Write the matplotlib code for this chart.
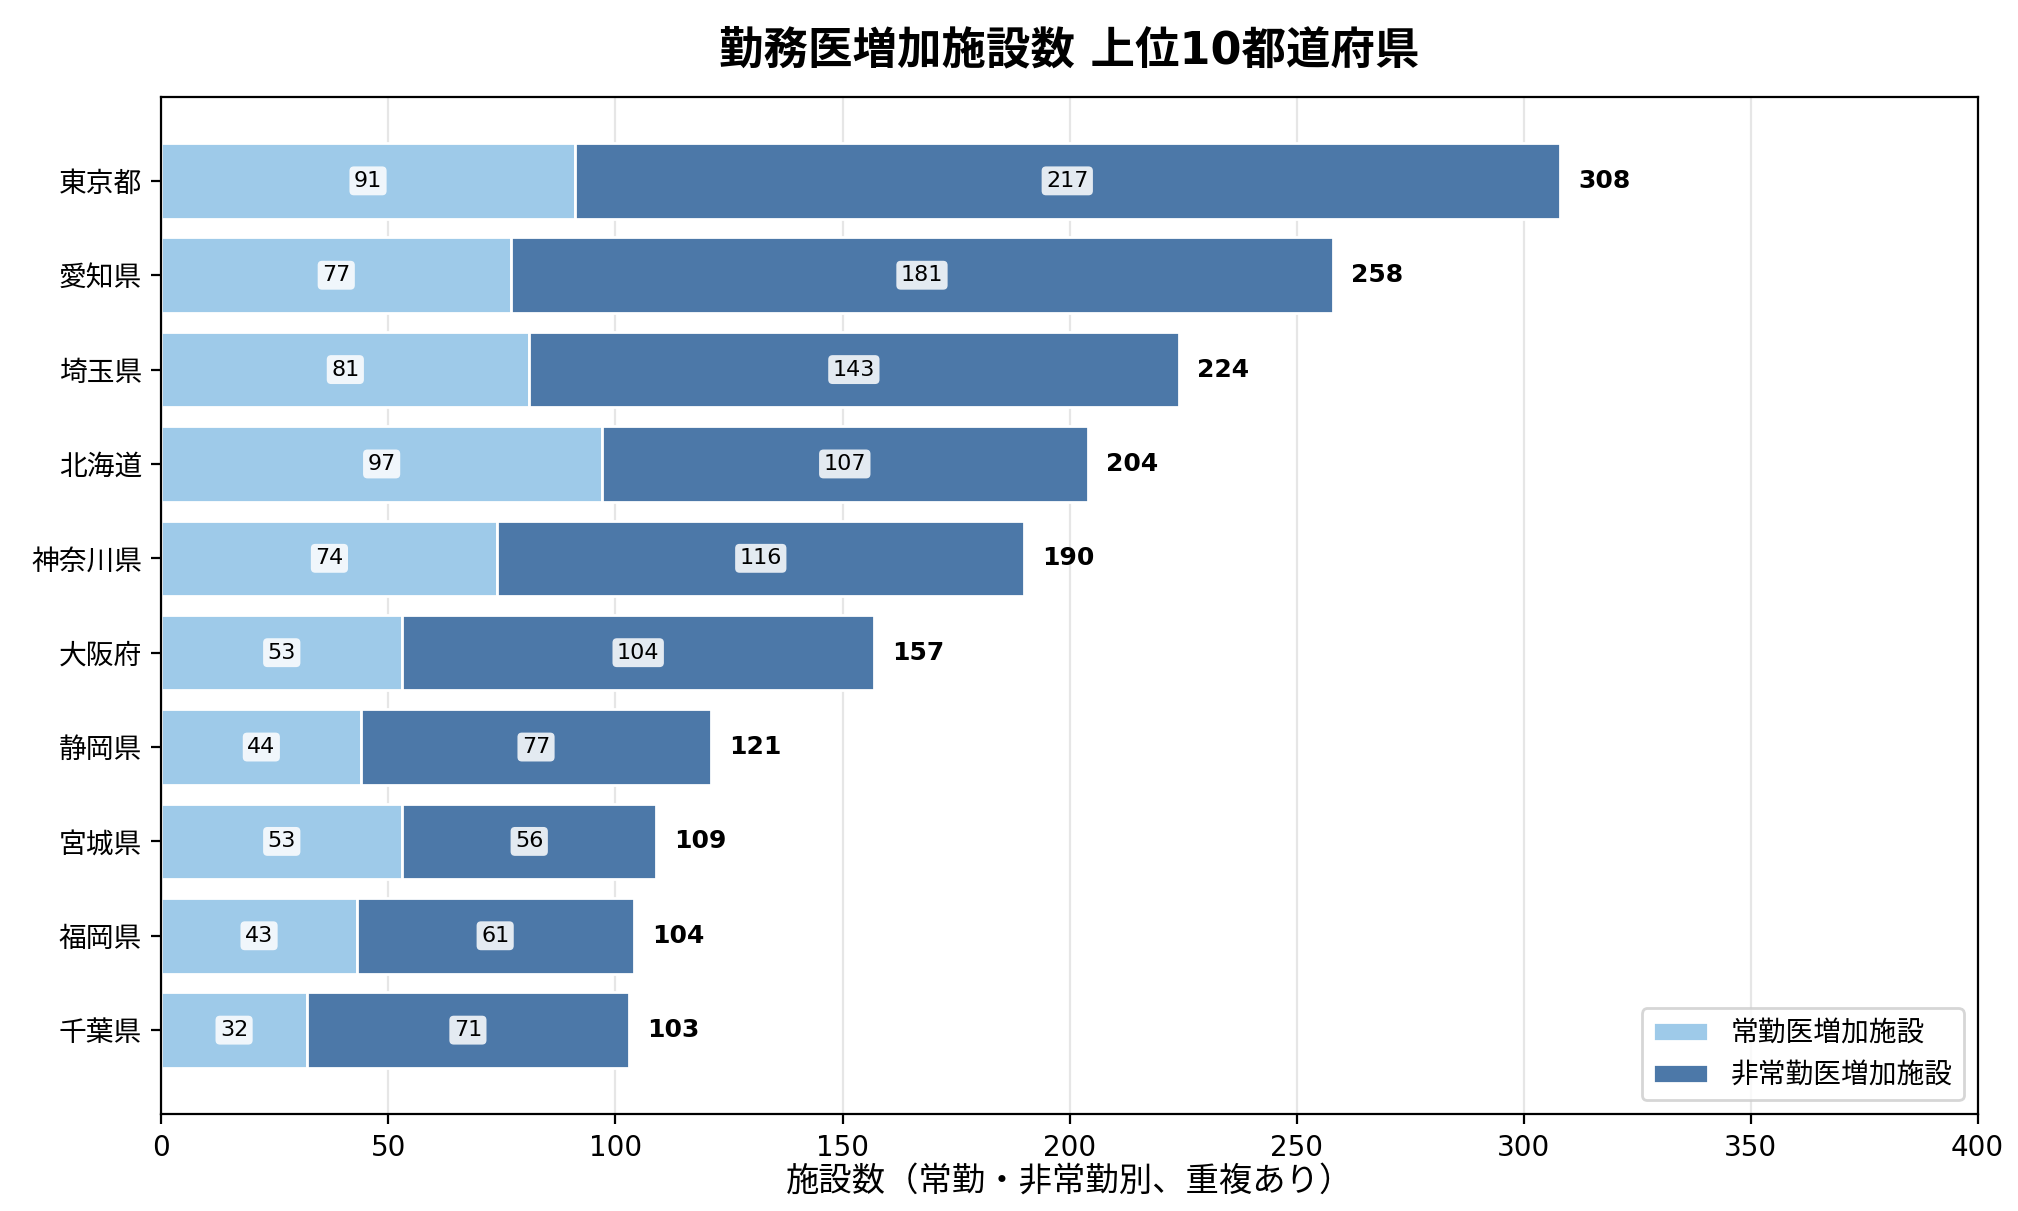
import numpy as np
import matplotlib
matplotlib.use("Agg")
import matplotlib.pyplot as plt

plt.rcParams['font.family'] = ['DejaVu Sans', 'Noto Sans CJK JP']

prefectures = ['東京都', '愛知県', '埼玉県', '北海道', '神奈川県',
               '大阪府', '静岡県', '宮城県', '福岡県', '千葉県']
fulltime = [91, 77, 81, 97, 74, 53, 44, 53, 43, 32]
parttime = [217, 181, 143, 107, 116, 104, 77, 56, 61, 71]
legend_labels = ['常勤医増加施設', '非常勤医増加施設']

fig, ax = plt.subplots(figsize=(10.09, 6.055), dpi=200)
fig.subplots_adjust(left=0.080, right=0.980, top=0.920, bottom=0.080)

y = np.arange(len(prefectures))
ft = np.array(fulltime)
pt = np.array(parttime)

b1 = ax.barh(y, ft, height=0.8, color='#9ecae9', edgecolor='white',
             linewidth=1, label=legend_labels[0], zorder=2)
b2 = ax.barh(y, pt, left=ft, height=0.8, color='#4c78a8', edgecolor='white',
             linewidth=1, label=legend_labels[1], zorder=2)

box = dict(boxstyle='round,pad=0.2', facecolor='white', edgecolor='none', alpha=0.85)
for i in range(len(prefectures)):
    ax.text(ft[i] / 2, y[i], str(ft[i]), ha='center', va='center',
            fontsize=8, bbox=box, zorder=3)
    ax.text(ft[i] + pt[i] / 2, y[i], str(pt[i]), ha='center', va='center',
            fontsize=8, bbox=box, zorder=3)
    total = ft[i] + pt[i]
    ax.text(total + 4, y[i], str(total), ha='left', va='center',
            fontsize=9, fontweight='bold', zorder=3)

ax.set_yticks(y)
ax.set_yticklabels(prefectures, fontsize=10)
ax.invert_yaxis()
ax.set_xlim(0, 400)
ax.tick_params(axis='x', labelsize=10)
ax.xaxis.grid(True, color='#e6e6e6', linewidth=0.8, zorder=0)
ax.set_axisbelow(True)
ax.set_xlabel('施設数（常勤・非常勤別、重複あり）', fontsize=12, labelpad=1)
ax.set_title('勤務医増加施設数 上位10都道府県', fontsize=16, fontweight='bold', pad=12)
ax.legend(loc='lower right', fontsize=10)

fig.savefig('out.png', dpi=200)
